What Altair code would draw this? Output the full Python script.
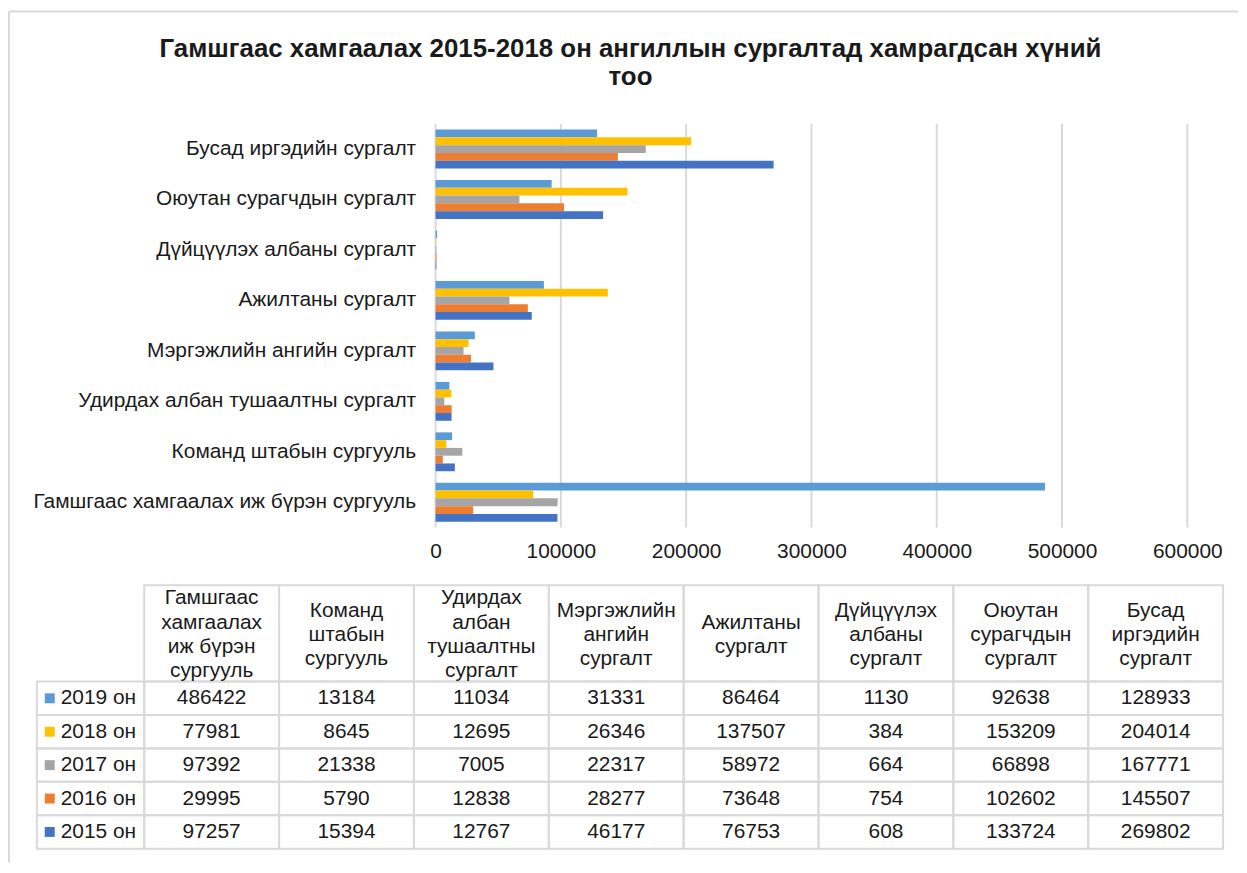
import altair as alt
import pandas as pd

# ---------------- data ----------------
categories = [
    "Гамшгаас хамгаалах иж бүрэн сургууль",
    "Команд штабын сургууль",
    "Удирдах албан тушаалтны сургалт",
    "Мэргэжлийн ангийн сургалт",
    "Ажилтаны сургалт",
    "Дүйцүүлэх албаны сургалт",
    "Оюутан сурагчдын сургалт",
    "Бусад иргэдийн сургалт",
]
header_labels = [
    ["Гамшгаас", "хамгаалах", "иж бүрэн", "сургууль"],
    ["Команд", "штабын", "сургууль"],
    ["Удирдах", "албан", "тушаалтны", "сургалт"],
    ["Мэргэжлийн", "ангийн", "сургалт"],
    ["Ажилтаны", "сургалт"],
    ["Дүйцүүлэх", "албаны", "сургалт"],
    ["Оюутан", "сурагчдын", "сургалт"],
    ["Бусад", "иргэдийн", "сургалт"],
]
series = ["2019 он", "2018 он", "2017 он", "2016 он", "2015 он"]
colors = ["#5b9bd5", "#ffc000", "#a5a5a5", "#ed7d31", "#4472c4"]

v2019 = [486422, 13184, 11034, 31331, 86464, 1130, 92638, 128933]
v2018 = [77981, 8645, 12695, 26346, 137507, 384, 153209, 204014]
v2017 = [97392, 21338, 7005, 22317, 58972, 664, 66898, 167771]
v2016 = [29995, 5790, 12838, 28277, 73648, 754, 102602, 145507]
v2015 = [97257, 15394, 12767, 46177, 76753, 608, 133724, 269802]

x_ticks = [0, 100000, 200000, 300000, 400000, 500000, 600000]
title_text = "Гамшгаас хамгаалах 2015-2018 он ангиллын сургалтад хамрагдсан хүний\nтоо"

# ---------------- layout ----------------
W, H = 1236, 856
FONT = "Liberation Sans"
TXT = "#1a1a1a"
GRID = "#d9d9d9"

rows = []
for s, vals in zip(series, [v2019, v2018, v2017, v2016, v2015]):
    for c, v in zip(categories, vals):
        rows.append({"category": c, "series": s, "value": v})
df = pd.DataFrame(rows)
grid_df = pd.DataFrame({"value": x_ticks})
head_df = pd.DataFrame({"category": categories})
hl_rows = []
for c, parts in zip(categories, header_labels):
    n = len(parts)
    for j, p in enumerate(parts):
        hl_rows.append({"category": c, "line": p, "off": j - (n - 1) / 2})
hl_df = pd.DataFrame(hl_rows)
ser_df = pd.DataFrame({"series": series})
one = pd.DataFrame({"k": [0]})
title_df = pd.DataFrame({"t": [title_text]})

color_enc = alt.Color("series:N", scale=alt.Scale(domain=series, range=colors), legend=None)

# ---------- bar plot ----------
x_scale = alt.Scale(domain=[0, 600000], range=[429, 1185], nice=False, zero=True)
x_axis = alt.Axis(orient="bottom", offset=519 - H, values=x_ticks, format="d", grid=False,
                  domain=False, ticks=False, labelPadding=13, labelFontSize=21, labelFont=FONT,
                  labelColor=TXT, title=None, labelFlush=False)
y_scale = alt.Scale(domain=categories[::-1], range=[113, 519], paddingInner=0.23, paddingOuter=0.115)
y_axis = alt.Axis(orient="left", offset=-429, domain=False, ticks=False, grid=False,
                  labelPadding=20, labelFontSize=21, labelFont=FONT, labelColor=TXT,
                  title=None, labelLimit=0)

grid = alt.Chart(grid_df).mark_rule(color=GRID, strokeWidth=2).encode(
    x=alt.X("value:Q", scale=x_scale, axis=x_axis),
    y=alt.value(113), y2=alt.value(519))
bars = alt.Chart(df).mark_bar().encode(
    x=alt.X("value:Q", scale=x_scale, axis=x_axis),
    y=alt.Y("category:N", scale=y_scale, axis=y_axis, sort=None),
    yOffset=alt.YOffset("series:N", scale=alt.Scale(domain=series, paddingInner=0, paddingOuter=0), sort=None),
    color=color_enc)
plot = alt.layer(grid, bars)

# ---------- data table ----------
tx = alt.Scale(domain=categories, range=[136, 1221], paddingInner=0, paddingOuter=0)
ty = alt.Scale(domain=series, range=[674, 842], paddingInner=0, paddingOuter=0)
TX = alt.X("category:N", scale=tx, axis=None, sort=None)
TY = alt.Y("series:N", scale=ty, axis=None, sort=None)
cell_mark = dict(fill="white", fillOpacity=0, stroke=GRID, strokeWidth=2)

cells = alt.Chart(df).mark_rect(**cell_mark).encode(x=TX, y=TY)
nums = alt.Chart(df).mark_text(fontSize=21, font=FONT, color=TXT).encode(
    x=TX, y=TY, text=alt.Text("value:Q", format="d"))
head_cells = alt.Chart(head_df).mark_rect(**cell_mark).encode(
    x=TX, y=alt.value(577), y2=alt.value(674))
lab_cells = alt.Chart(ser_df).mark_rect(**cell_mark).encode(
    x=alt.value(28), x2=alt.value(136), y=TY)
lab_sq = alt.Chart(ser_df).mark_square(size=100, filled=True, opacity=1).encode(
    x=alt.value(41), y=TY, color=color_enc)
lab_txt = alt.Chart(ser_df).mark_text(align="left", fontSize=21, font=FONT, color=TXT).encode(
    x=alt.value(52), y=TY, text="series:N")
table = alt.layer(cells, nums, head_cells, lab_cells, lab_sq, lab_txt)

LH = 24.4
head_text = alt.Chart(hl_df).mark_text(fontSize=21, font=FONT, color=TXT, baseline="middle").encode(
    x=TX,
    y=alt.Y("off:Q", scale=alt.Scale(domain=[-1.5, 1.5], range=[627 - 1.5 * LH, 627 + 1.5 * LH],
                                     zero=False, nice=False), axis=None),
    text="line:N")

# ---------- frame + title ----------
left_rule = alt.Chart(one).mark_rule(color=GRID, strokeWidth=2).encode(
    x=alt.value(0), y=alt.value(0), y2=alt.value(H))
top_rule = alt.Chart(one).mark_rule(color=GRID, strokeWidth=2).encode(
    x=alt.value(0), x2=alt.value(W), y=alt.value(0))
title = alt.Chart(title_df).mark_text(fontSize=26, fontWeight="bold", font=FONT, color=TXT,
                                      lineBreak="\n", lineHeight=28, baseline="middle",
                                      align="center").encode(
    x=alt.value(625), y=alt.value(38), text="t:N")

chart = alt.layer(left_rule, top_rule, title, plot, table, head_text).resolve_scale(
    x="independent", y="independent"
).properties(width=W, height=H, padding=0).configure_view(stroke=None)

chart.save("out.html", embed_options={"renderer": "svg", "actions": False})
